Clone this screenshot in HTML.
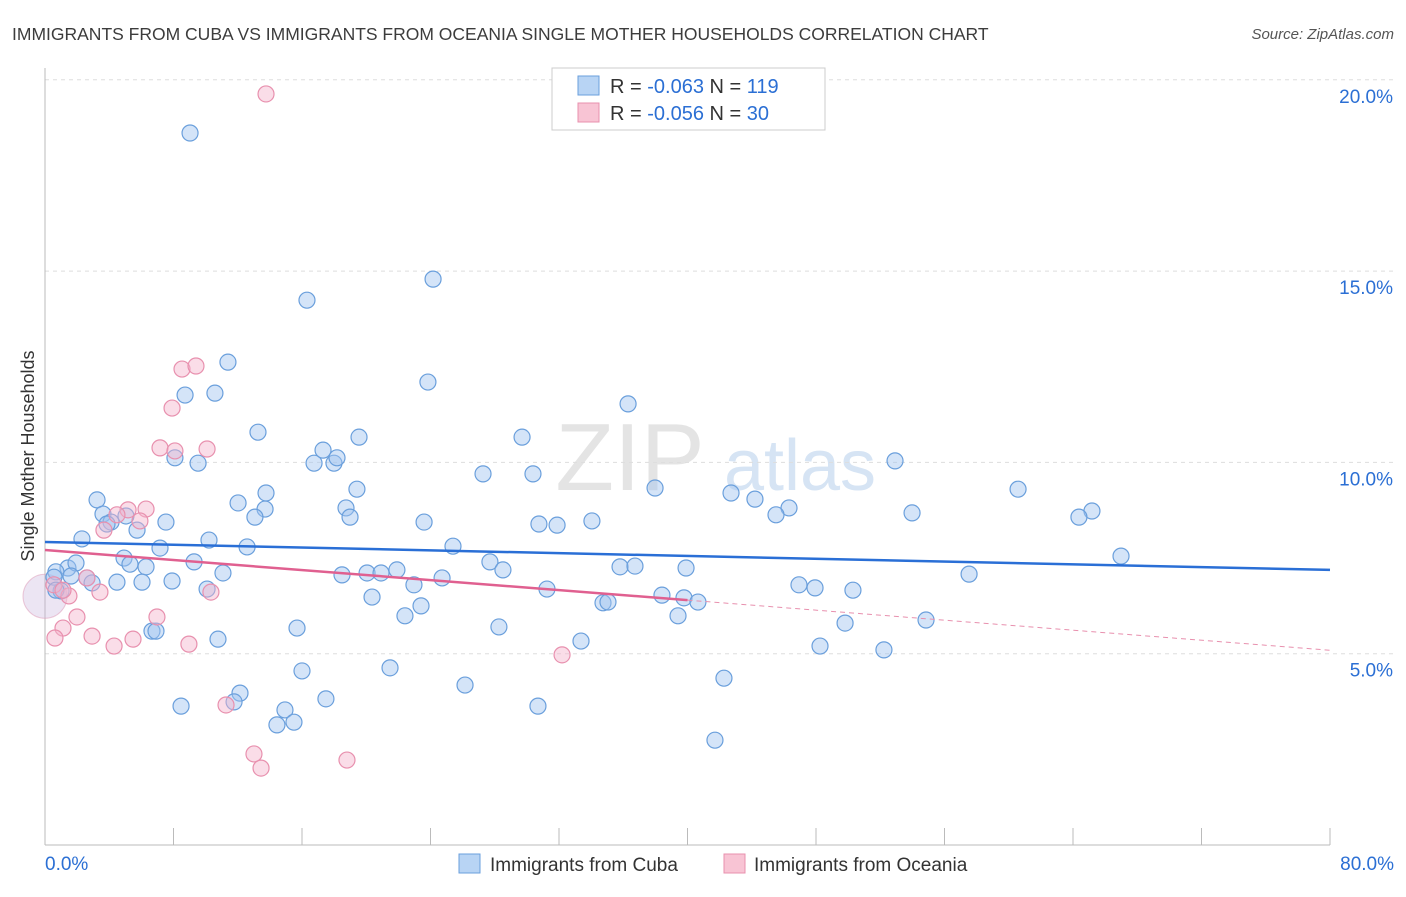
<!DOCTYPE html>
<html><head><meta charset="utf-8">
<style>
body{margin:0;background:#fff;font-family:"Liberation Sans",sans-serif;}
svg text{font-family:"Liberation Sans",sans-serif;}
</style></head>
<body>
<svg id="chart" width="1406" height="892">
<text x="12" y="40" font-size="17.5" fill="#3c3c3c">IMMIGRANTS FROM CUBA VS IMMIGRANTS FROM OCEANIA SINGLE MOTHER HOUSEHOLDS CORRELATION CHART</text>
<text x="1394" y="39" font-size="15" fill="#555" font-style="italic" text-anchor="end">Source: ZipAtlas.com</text>
<text x="34" y="456" font-size="18" fill="#333" text-anchor="middle" transform="rotate(-90 34 456)">Single Mother Households</text>
<text x="630" y="490" font-size="96" fill="#e4e4e4" font-family="Liberation Serif" text-anchor="middle">ZIP</text>
<text x="800" y="490" font-size="72" fill="#d6e4f4" text-anchor="middle">atlas</text>
<g id="grid"></g><g id="axes"></g><g id="pts"></g><g id="trend"></g>
<g>
<rect x="552" y="68" width="273" height="62" fill="#fff" stroke="#ccc"/>
<rect x="578" y="76" width="21" height="19" fill="#b8d4f4" stroke="#6a9fdc"/>
<rect x="578" y="103" width="21" height="19" fill="#f8c4d4" stroke="#e890ae"/>
<text x="610" y="93" font-size="20" fill="#333">R = <tspan fill="#2b6fd4">-0.063</tspan>   N = <tspan fill="#2b6fd4">119</tspan></text>
<text x="610" y="120" font-size="20" fill="#333">R = <tspan fill="#2b6fd4">-0.056</tspan>   N = <tspan fill="#2b6fd4"> 30</tspan></text>
</g>
<g>
<rect x="459" y="854" width="21" height="19" fill="#b8d4f4" stroke="#6a9fdc"/>
<text x="490" y="871" font-size="19" fill="#333">Immigrants from Cuba</text>
<rect x="724" y="854" width="21" height="19" fill="#f8c4d4" stroke="#e890ae"/>
<text x="754" y="871" font-size="19" fill="#333">Immigrants from Oceania</text>
</g>
</svg>
<script>
const yTicks=[5,10,15,20];
const xLabels=["0.0%","80.0%"];
const cubaPx=[[190,133],[433,279],[307,300],[228,362],[428,382],[185,395],[215,393],[628,404],[258,432],[359,437],[522,437],[175,458],[198,463],[314,463],[323,450],[334,463],[337,458],[895,461],[483,474],[533,474],[655,488],[731,493],[755,499],[266,493],[357,489],[97,500],[238,503],[1018,489],[1092,511],[1079,517],[912,513],[789,508],[776,515],[265,509],[346,508],[350,517],[255,517],[103,514],[126,516],[111,522],[107,524],[166,522],[424,522],[539,524],[557,525],[592,521],[137,530],[82,539],[209,540],[160,548],[247,547],[453,546],[1121,556],[124,558],[194,562],[490,562],[130,564],[146,567],[68,568],[76,563],[56,572],[54,577],[71,576],[223,573],[342,575],[367,573],[381,573],[397,570],[503,570],[620,567],[635,566],[686,568],[969,574],[87,578],[92,583],[117,582],[142,582],[172,581],[414,585],[442,578],[547,589],[799,585],[815,588],[853,590],[207,589],[61,591],[56,590],[372,597],[662,595],[684,598],[698,602],[421,606],[603,603],[608,602],[405,616],[678,616],[845,623],[926,620],[297,628],[499,627],[152,631],[156,631],[218,639],[581,641],[820,646],[884,650],[302,671],[390,668],[724,678],[465,685],[240,693],[326,699],[181,706],[234,702],[538,706],[285,710],[277,725],[294,722],[715,740]];
const oceaniaPx=[[266,94],[182,369],[196,366],[172,408],[160,448],[175,451],[207,449],[146,509],[128,510],[117,515],[140,521],[104,530],[87,578],[54,585],[69,596],[100,592],[211,592],[63,590],[77,617],[157,617],[63,628],[92,636],[133,639],[55,638],[114,646],[189,644],[562,655],[226,705],[254,754],[261,768],[347,760]];
// data arrays (x %, y %)
const cubaX=cubaPx.map(p=>+((p[0]-45)/1285*80).toFixed(2));
const cubaY=cubaPx.map(p=>+((845-p[1])/191.3*5).toFixed(2));
const oceX=oceaniaPx.map(p=>+((p[0]-45)/1285*80).toFixed(2));
const oceY=oceaniaPx.map(p=>+((845-p[1])/191.3*5).toFixed(2));
const cubaTrend=[7.92,7.19];
const oceTrend=[7.71,5.09];
const sx=v=>45+v/80*1285, sy=v=>845-v/5*191.3;
const NS="http://www.w3.org/2000/svg";
function mk(t,a,parent){const e=document.createElementNS(NS,t);for(const k in a)e.setAttribute(k,a[k]);document.getElementById(parent).appendChild(e);return e;}
yTicks.forEach(v=>{
 const l=mk('line',{x1:45,x2:1394,y1:sy(v),y2:sy(v),stroke:'#ddd','stroke-dasharray':'4 4'},'grid');
 
 
 const t=mk('text',{x:1393,y:sy(v)+23,'font-size':19,fill:'#2b6fd4','text-anchor':'end'},'grid');
 t.textContent=v.toFixed(1)+'%';
 
 
});
const ax=mk('line',{x1:45,x2:45,y1:68,y2:845,stroke:'#bbb'},'axes');


const bx=mk('line',{x1:45,x2:1330,y1:845,y2:845,stroke:'#bbb'},'axes');


for(let i=0;i<=10;i++){const tk=mk('line',{x1:sx(i*8),x2:sx(i*8),y1:828,y2:845,stroke:'#bbb'},'axes');
 
 }
[[45,'start',0],[1394,'end',1]].forEach(([x,a,i])=>{const t=mk('text',{x:x,y:870,'font-size':19,fill:'#2b6fd4','text-anchor':a},'axes');t.textContent=xLabels[i];
 
 });
const big=mk('circle',{cx:sx(0),cy:sy(6.5),r:22,fill:'rgba(200,180,220,0.35)',stroke:'rgba(220,150,180,0.5)'},'pts');


cubaX.forEach((x,i)=>{const c=mk('circle',{cx:sx(x),cy:sy(cubaY[i]),r:8,fill:'rgba(160,196,240,0.45)',stroke:'#6a9fdc','stroke-width':1.2},'pts');
 
 });
oceX.forEach((x,i)=>{const c=mk('circle',{cx:sx(x),cy:sy(oceY[i]),r:8,fill:'rgba(245,180,204,0.45)',stroke:'#e890ae','stroke-width':1.2},'pts');
 
 });
const t1=mk('line',{x1:sx(0),y1:sy(cubaTrend[0]),x2:sx(80),y2:sy(cubaTrend[1]),stroke:'#2a6fd6','stroke-width':2.5},'trend');


const yo=x=>oceTrend[0]+(oceTrend[1]-oceTrend[0])*x/80;
const t2=mk('line',{x1:sx(0),y1:sy(yo(0)),x2:sx(40),y2:sy(yo(40)),stroke:'#e06090','stroke-width':2.5},'trend');


const t3=mk('line',{x1:sx(40),y1:sy(yo(40)),x2:sx(80),y2:sy(yo(80)),stroke:'#e890ae','stroke-width':1,'stroke-dasharray':'5 4'},'trend');


</script>
</body></html>
